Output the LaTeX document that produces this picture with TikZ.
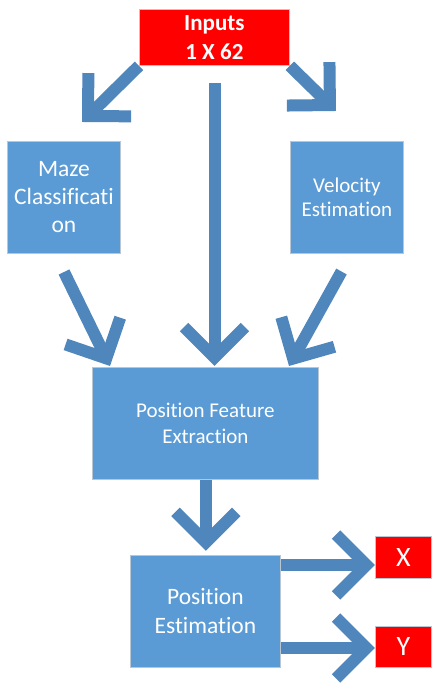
\documentclass[tikz,border=0pt]{standalone}
\usepackage{fontspec}
\setmainfont{Carlito}[Ligatures=NoCommon]
\usetikzlibrary{calc}
\definecolor{boxblue}{HTML}{5B9BD5}
\definecolor{arrblue}{HTML}{4F86BC}
\definecolor{boxline}{HTML}{B9C6D3}
\definecolor{outred}{HTML}{FF0000}
\tikzset{
  blockbox/.style={draw=boxline, line width=0.8pt, fill=boxblue, text=white,
    align=center, inner sep=0pt, anchor=north west},
  redbox/.style={draw=boxline, line width=0.8pt, fill=outred, text=white,
    align=center, inner sep=0pt, anchor=north west},
  arrline/.style={draw=arrblue, line width=12pt, line cap=butt},
}
\newcommand\fatarrow[2]{%
  \coordinate (fav) at ($(#2)!8.5pt!(#1)$);
  \draw[arrline] (#1) -- (fav);
  \draw[arrline, line join=miter] ($(fav)!43pt!45:(#1)$) -- (fav) -- ($(fav)!43pt!-45:(#1)$);
}
\begin{document}
\begin{tikzpicture}[x=1pt, y=-1pt]
\useasboundingbox (0,0) rectangle (437,693);
% boxes
\node[redbox, minimum width=150pt, minimum height=56pt,
  font=\fontsize{23}{29}\selectfont\bfseries] (inputs) at (139,9) {Inputs\\1 X 62};
\node[blockbox, minimum width=113pt, minimum height=112pt,
  font=\fontsize{23.5}{28}\selectfont] (maze) at (7,141) {Maze\\Classificati\\on};
\node[blockbox, minimum width=113pt, minimum height=112pt,
  font=\fontsize{21}{24}\selectfont] (vel) at (290,141) {Velocity\\Estimation};
\node[blockbox, minimum width=226pt, minimum height=112pt,
  font=\fontsize{21}{26}\selectfont] (pfe) at (92,367) {Position Feature\\Extraction};
\node[blockbox, minimum width=150pt, minimum height=112pt,
  font=\fontsize{23.5}{29}\selectfont] (pe) at (130,555) {Position\\Estimation};
\node[redbox, minimum width=56pt, minimum height=42pt,
  font=\fontsize{28}{30}\selectfont] (xo) at (375,536) {X};
\node[redbox, minimum width=56pt, minimum height=41pt,
  font=\fontsize{28}{30}\selectfont] (yo) at (375,626) {Y};
% free ends and tips
\coordinate (a1t) at (82,122);
\coordinate (a2t) at (336,111);
\coordinate (a3s) at (214.5,83);
\coordinate (a3t) at (214.5,366);
\coordinate (a4s) at (64,272);
\coordinate (a4t) at (110,366);
\coordinate (a5s) at (341.5,271.5);
\coordinate (a5t) at (289,366);
\coordinate (a6s) at ($(pfe.south)+(0.5,0)$);
\coordinate (a6t) at ($(pfe.south)+(0.5,71)$);
\coordinate (a7s) at (pe.east |- 0,565);
\coordinate (a7t) at (xo.west |- 0,565);
\coordinate (a8s) at (pe.east |- 0,648);
\coordinate (a8t) at (yo.west |- 0,648);
% arrows
\fatarrow{inputs.south west}{a1t}
\fatarrow{inputs.south east}{a2t}
\fatarrow{a3s}{a3t}
\fatarrow{a4s}{a4t}
\fatarrow{a5s}{a5t}
\fatarrow{a6s}{a6t}
\fatarrow{a7s}{a7t}
\fatarrow{a8s}{a8t}
\end{tikzpicture}
\end{document}
